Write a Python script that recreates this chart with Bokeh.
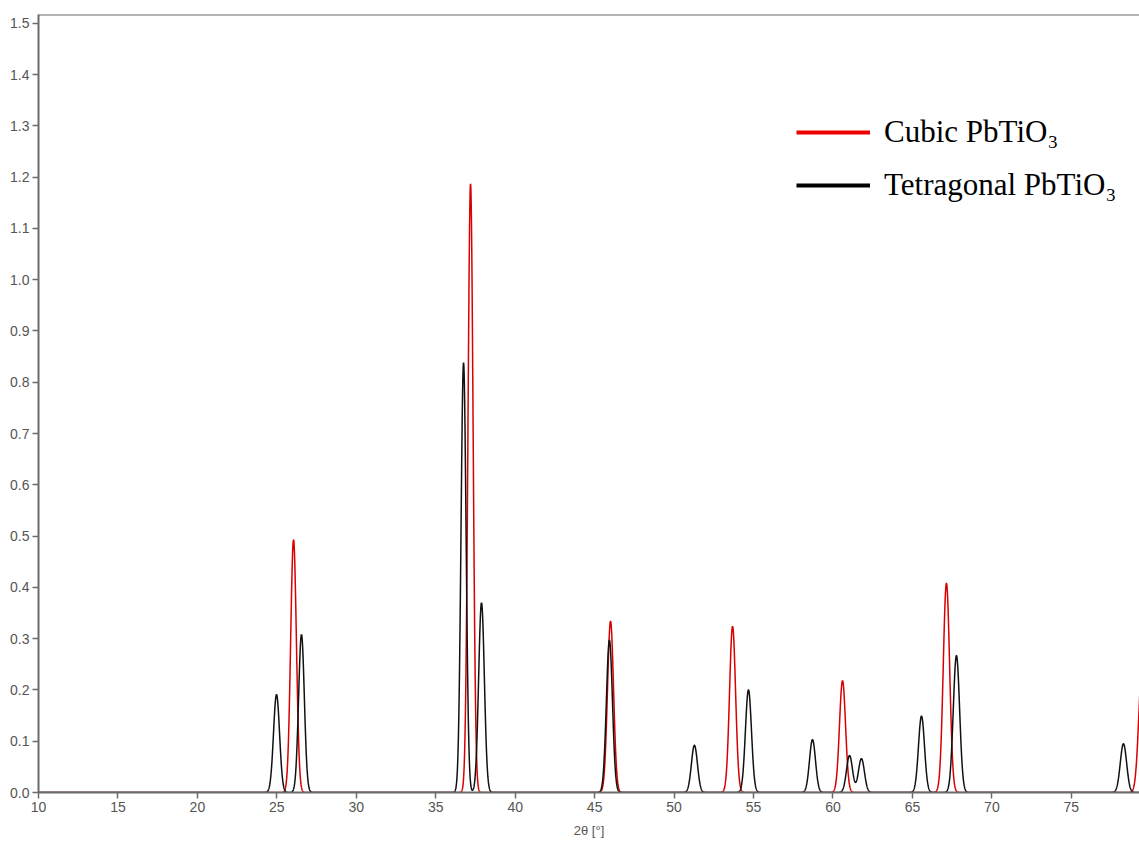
import numpy as np
from bokeh.plotting import figure
from bokeh.models import (ColumnDataSource, Legend, LegendItem, Range1d,
                          SingleIntervalTicker, PrintfTickFormatter, Span)
from bokeh.embed import file_html
from bokeh.resources import INLINE

# Reflection list, cubic PbTiO3: 2θ positions (deg), intensities, peak widths (sigma, deg)
cubic_pos = [26.05, 37.19, 46.00, 53.68, 60.60, 67.14, 79.45]
cubic_int = [0.493, 1.187, 0.334, 0.324, 0.218, 0.408, 0.24]
cubic_sig = [0.18, 0.16, 0.19, 0.19, 0.19, 0.20, 0.21]

# Reflection list, tetragonal PbTiO3
tetra_pos = [24.98, 26.55, 36.75, 37.88, 45.93, 51.28, 54.68, 58.71,
             61.04, 61.79, 65.57, 67.77, 78.28]
tetra_int = [0.191, 0.308, 0.838, 0.370, 0.297, 0.092, 0.200, 0.103,
             0.072, 0.066, 0.149, 0.267, 0.095]
tetra_sig = [0.19, 0.18, 0.16, 0.18, 0.19, 0.19, 0.19, 0.19,
             0.19, 0.19, 0.19, 0.20, 0.20]

x_ticks_step = 5
y_ticks_step = 0.1
series_names = ["Cubic PbTiO\u2083", "Tetragonal PbTiO\u2083"]


def profile(tt, pos, inten, sig):
    y = np.zeros_like(tt)
    for p0, h, s in zip(pos, inten, sig):
        y += h * np.exp(-0.5 * ((tt - p0) / s) ** 2)
    return y


tt = np.linspace(10, 80, 7001)
src = ColumnDataSource(dict(
    tt=tt,
    cubic=profile(tt, cubic_pos, cubic_int, cubic_sig),
    tetra=profile(tt, tetra_pos, tetra_int, tetra_sig),
))

p = figure(width=1139, height=841, output_backend="svg", toolbar_location=None,
           x_range=Range1d(10, 79.29), y_range=Range1d(0, 1.517),
           min_border_left=38, min_border_right=0, min_border_top=14,
           min_border_bottom=49)
p.outline_line_color = None
p.grid.visible = False
p.background_fill_color = "white"

grey = "#6b6b6b"
for ax in (p.xaxis[0], p.yaxis[0]):
    ax.axis_line_color = grey
    ax.axis_line_width = 2
    ax.major_tick_line_color = grey
    ax.major_tick_line_width = 1.5
    ax.major_tick_out = 6
    ax.major_tick_in = 0
    ax.minor_tick_out = 0
    ax.minor_tick_in = 0
    ax.major_label_text_font = "Liberation Sans"
    ax.major_label_text_font_size = "14px"
    ax.major_label_text_color = "#555555"
    ax.major_label_standoff = 3

p.xaxis.ticker = SingleIntervalTicker(interval=x_ticks_step)
p.yaxis.ticker = SingleIntervalTicker(interval=y_ticks_step)
p.yaxis.formatter = PrintfTickFormatter(format="%.1f")
p.xaxis.axis_label = "2θ [°]"
p.xaxis.axis_label_text_font = "Liberation Sans"
p.xaxis.axis_label_text_font_size = "13px"
p.xaxis.axis_label_text_font_style = "normal"
p.xaxis.axis_label_text_color = "#555555"
p.xaxis.axis_label_standoff = 8

# top frame edge
p.add_layout(Span(location=1.517, dimension="width", line_color=grey, line_width=2))

p.line("tt", "cubic", source=src, line_color="#d80000", line_width=1.5)
p.line("tt", "tetra", source=src, line_color="#111111", line_width=1.5)

# thick swatches for the legend (a single NaN row, nothing drawn in the frame)
sw_red = p.line([np.nan], [np.nan], line_color="#ee0000", line_width=4)
sw_blk = p.line([np.nan], [np.nan], line_color="#000000", line_width=4)

legend = Legend(items=[LegendItem(label=series_names[0], renderers=[sw_red]),
                       LegendItem(label=series_names[1], renderers=[sw_blk])],
                location=(758, 587), orientation="vertical",
                glyph_width=74, glyph_height=40, label_height=40,
                label_standoff=14, spacing=13, padding=0, margin=0,
                border_line_color=None, background_fill_alpha=0,
                label_text_font="Liberation Serif", label_text_font_size="31px",
                label_text_color="black")
p.add_layout(legend)

open("out.html", "w").write(file_html(p, INLINE))
